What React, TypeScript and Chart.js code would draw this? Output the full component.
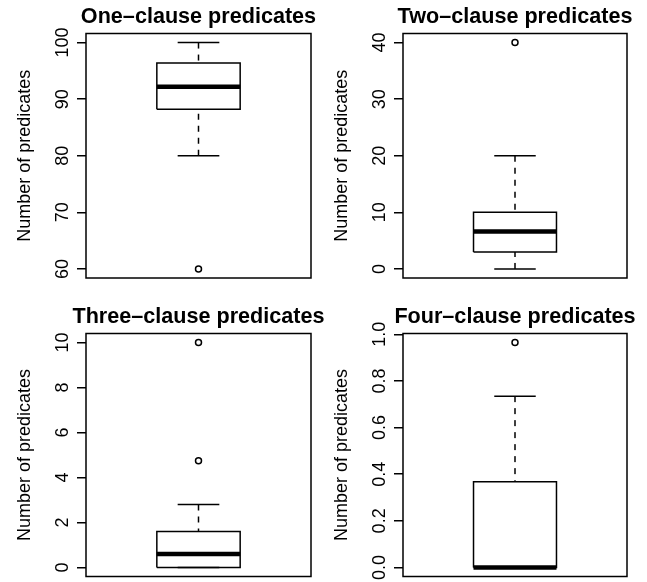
import React, { useEffect, useRef } from "react";
import { Chart, registerables } from "chart.js";
Chart.register(...registerables);

// ---- data ----
const PANEL_TITLES = [
  "One–clause predicates",
  "Two–clause predicates",
  "Three–clause predicates",
  "Four–clause predicates",
];
const Y_AXIS_TITLE = "Number of predicates";
const LOWER_WHISKER = [80, 0, 0, 0];
const Q1 = [88.2, 3.0, 0, 0];
const MEDIAN = [92.2, 6.6, 0.6, 0];
const Q3 = [96.4, 10.0, 1.6, 0.368];
const UPPER_WHISKER = [100, 20, 2.8, 0.735];
const OUTLIERS = [[60], [40], [4.75, 10], [0.965]];
const Y_TICKS = [
  [60, 70, 80, 90, 100],
  [0, 10, 20, 30, 40],
  [0, 2, 4, 6, 8, 10],
  [0, 0.2, 0.4, 0.6, 0.8, 1.0],
];
const Y_TICK_LABELS = [
  ["60", "70", "80", "90", "100"],
  ["0", "10", "20", "30", "40"],
  ["0", "2", "4", "6", "8", "10"],
  ["0.0", "0.2", "0.4", "0.6", "0.8", "1.0"],
];
const Y_MIN = [58.4, -1.6, -0.4, -0.0386];
const Y_MAX = [101.6, 41.6, 10.4, 1.0036];

// ---- layout / style ----
const BOX_AT = 1;
const X_MIN = 0.46;
const X_MAX = 1.54;
const BOX_HALF = 0.2;
const STAPLE_HALF = 0.1;
const W = 647;
const H = 582;
const TICK_LEN = 9;
const AREAS = [
  { left: 86, top: 33.5, right: 311, bottom: 278 },
  { left: 403, top: 33.5, right: 627, bottom: 278 },
  { left: 86, top: 333.5, right: 311, bottom: 578 },
  { left: 403, top: 333.5, right: 627, bottom: 578 },
];
const FONT = '"Liberation Sans", Arial, Helvetica, sans-serif';
const LW = 1.5;

function makeConfig(i: number): any {
  const area = AREAS[i];
  const line = (pts: { x: number; y: number }[], extra: any = {}) => ({
    type: "line",
    data: pts,
    borderColor: "#000",
    borderWidth: LW,
    pointRadius: 0,
    fill: false,
    tension: 0,
    borderJoinStyle: "miter",
    borderCapStyle: "butt",
    ...extra,
  });
  const datasets: any[] = [
    line(
      [
        { x: BOX_AT - BOX_HALF, y: Q1[i] },
        { x: BOX_AT + BOX_HALF, y: Q1[i] },
        { x: BOX_AT + BOX_HALF, y: Q3[i] },
        { x: BOX_AT - BOX_HALF, y: Q3[i] },
        { x: BOX_AT - BOX_HALF, y: Q1[i] },
      ]
    ),
    line(
      [
        { x: BOX_AT - BOX_HALF, y: MEDIAN[i] },
        { x: BOX_AT + BOX_HALF, y: MEDIAN[i] },
      ],
      { borderWidth: 4.5 }
    ),
    line(
      [
        { x: BOX_AT, y: LOWER_WHISKER[i] },
        { x: BOX_AT, y: Q1[i] },
      ],
      { borderDash: [6, 6] }
    ),
    line(
      [
        { x: BOX_AT, y: UPPER_WHISKER[i] },
        { x: BOX_AT, y: Q3[i] },
      ],
      { borderDash: [6, 6] }
    ),
    line([
      { x: BOX_AT - STAPLE_HALF, y: LOWER_WHISKER[i] },
      { x: BOX_AT + STAPLE_HALF, y: LOWER_WHISKER[i] },
    ]),
    line([
      { x: BOX_AT - STAPLE_HALF, y: UPPER_WHISKER[i] },
      { x: BOX_AT + STAPLE_HALF, y: UPPER_WHISKER[i] },
    ]),
    {
      type: "scatter",
      data: OUTLIERS[i].map((v) => ({ x: BOX_AT, y: v })),
      showLine: false,
      pointRadius: 3,
      pointBorderWidth: LW,
      pointBackgroundColor: "rgba(0,0,0,0)",
      pointBorderColor: "#000",
      pointStyle: "circle",
    },
  ];

  const decor = {
    id: "decor" + i,
    afterDraw(chart: any) {
      const { ctx, chartArea } = chart;
      const ys = chart.scales.y;
      ctx.save();
      // frame
      ctx.strokeStyle = "#000";
      ctx.lineWidth = LW;
      ctx.strokeRect(
        chartArea.left,
        chartArea.top,
        chartArea.right - chartArea.left,
        chartArea.bottom - chartArea.top
      );
      // tick labels
      ctx.fillStyle = "#000";
      ctx.font = `18px ${FONT}`;
      ctx.textAlign = "center";
      ctx.textBaseline = "alphabetic";
      ys.ticks.forEach((t: any, k: number) => {
        const py = ys.getPixelForValue(t.value);
        ctx.save();
        ctx.translate(chartArea.left - 18.5, py);
        ctx.rotate(-Math.PI / 2);
        ctx.fillText(Y_TICK_LABELS[i][k], 0, 0);
        ctx.restore();
      });
      // axis title
      ctx.save();
      ctx.translate(chartArea.left - 56, (chartArea.top + chartArea.bottom) / 2);
      ctx.rotate(-Math.PI / 2);
      ctx.fillText(Y_AXIS_TITLE, 0, 0);
      ctx.restore();
      // main title
      ctx.font = `bold 21.6px ${FONT}`;
      ctx.fillText(
        PANEL_TITLES[i],
        (chartArea.left + chartArea.right) / 2,
        chartArea.top - 10.8
      );
      ctx.restore();
    },
  };

  return {
    type: "line",
    data: { datasets },
    options: {
      responsive: false,
      animation: false,
      events: [],
      layout: {
        padding: {
          left: area.left - TICK_LEN,
          top: area.top,
          right: W - area.right,
          bottom: H - area.bottom,
        },
      },
      plugins: {
        legend: { display: false },
        tooltip: { enabled: false },
        title: { display: false },
      },
      scales: {
        x: {
          type: "linear",
          display: false,
          min: X_MIN,
          max: X_MAX,
        },
        y: {
          type: "linear",
          position: "left",
          min: Y_MIN[i],
          max: Y_MAX[i],
          afterBuildTicks: (s: any) => {
            s.ticks = Y_TICKS[i].map((v) => ({ value: v }));
          },
          afterFit: (s: any) => {
            s.width = TICK_LEN;
          },
          ticks: { display: false },
          grid: {
            display: true,
            drawOnChartArea: false,
            drawTicks: true,
            tickLength: TICK_LEN,
            color: "#000",
            lineWidth: LW,
          },
          border: { display: false },
        },
      },
    },
    plugins: [decor],
  };
}

function Panel({ index }: { index: number }) {
  const ref = useRef<HTMLCanvasElement>(null);
  useEffect(() => {
    const chart = new Chart(ref.current as HTMLCanvasElement, makeConfig(index));
    return () => chart.destroy();
  }, [index]);
  return (
    <canvas
      ref={ref}
      width={W}
      height={H}
      style={{ position: "absolute", left: 0, top: 0, width: W, height: H }}
    />
  );
}

export default function App() {
  return (
    <div
      style={{
        position: "absolute",
        left: 0,
        top: 0,
        width: W,
        height: H,
        background: "#fff",
      }}
    >
      {[0, 1, 2, 3].map((i) => (
        <Panel key={i} index={i} />
      ))}
    </div>
  );
}
